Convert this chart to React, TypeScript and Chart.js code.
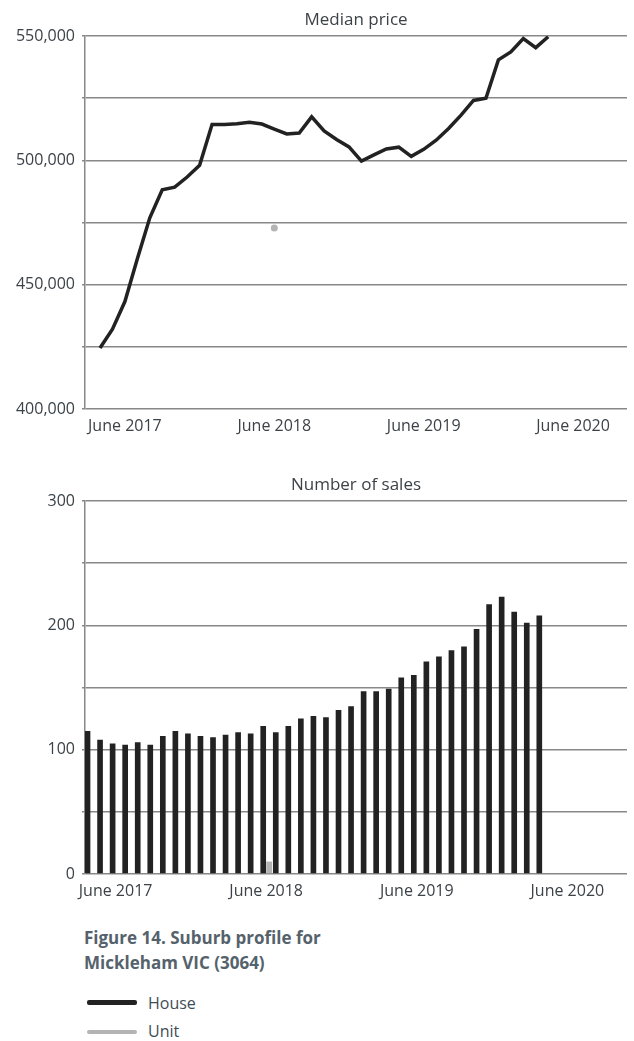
import React, { useEffect, useRef } from 'react';
import { Chart, registerables } from 'chart.js';

Chart.register(...registerables);

// ---- data ----
const months = [
  'Apr 2017', 'May 2017', 'Jun 2017', 'Jul 2017', 'Aug 2017', 'Sep 2017', 'Oct 2017', 'Nov 2017', 'Dec 2017',
  'Jan 2018', 'Feb 2018', 'Mar 2018', 'Apr 2018', 'May 2018', 'Jun 2018', 'Jul 2018', 'Aug 2018', 'Sep 2018',
  'Oct 2018', 'Nov 2018', 'Dec 2018', 'Jan 2019', 'Feb 2019', 'Mar 2019', 'Apr 2019', 'May 2019', 'Jun 2019',
  'Jul 2019', 'Aug 2019', 'Sep 2019', 'Oct 2019', 'Nov 2019', 'Dec 2019', 'Jan 2020', 'Feb 2020', 'Mar 2020',
  'Apr 2020',
];

// month positions (index from Apr 2017) of the axis labels
const tickMonthIndex = [2, 14, 26, 38];
const tickLabels = ['June 2017', 'June 2018', 'June 2019', 'June 2020'];

const housePrice = [
  424500, 432100, 443200, 460400, 476900, 488200, 489200, 493300, 498000, 514400,
  514400, 514700, 515300, 514600, 512600, 510600, 511000, 517500, 511800, 508400,
  505400, 499700, 502200, 504600, 505300, 501600, 504400, 508100, 512800, 518200,
  524100, 525000, 540400, 543600, 549000, 545300, 549700,
];

const unitPriceMonth = 'Jun 2018';
const unitPriceValue = 472800;

const houseSales = [
  115, 108, 105, 104, 106, 104, 111, 115, 113, 111,
  110, 112, 114, 113, 119, 114, 119, 125, 127, 126,
  132, 135, 147, 147, 149, 158, 160, 171, 175, 180,
  183, 197, 217, 223, 211, 202, 208,
];

const unitSalesMonth = 'Jun 2018';
const unitSalesValue = 10;

const priceTicks = { min: 400000, max: 550000, step: 25000, labelEvery: 50000 };
const salesTicks = { min: 0, max: 300, step: 50, labelEvery: 100 };

// ---- styles ----
const FONT = "'Open Sans', 'Noto Sans', sans-serif";
const TEXT = '#3b4248';
const GRID = '#888888';
const HOUSE = '#222222';
const UNIT = '#b4b4b4';

function baseOptions(title: string, xMin: number, xMax: number, yCfg: any) {
  return {
    animation: false as const,
    responsive: false,
    layout: { padding: { left: 0, right: 7, top: 0, bottom: 0 } },
    plugins: {
      legend: { display: false },
      tooltip: { enabled: false },
      title: {
        display: true,
        text: title,
        fullSize: false,
        color: TEXT,
        font: { family: FONT, size: 17, weight: 'normal' as const },
        padding: { top: 10, bottom: 5.6 },
      },
    },
    scales: {
      x: {
        type: 'linear' as const,
        offset: false,
        min: xMin,
        max: xMax,
        afterBuildTicks: (s: any) => {
          s.ticks = tickMonthIndex.map((v) => ({ value: v }));
        },
        afterFit: (s: any) => {
          s.height = 36;
        },
        grid: { display: false, drawTicks: false, offset: false },
        border: { display: false },
        ticks: {
          autoSkip: false,
          maxRotation: 0,
          padding: 8,
          color: TEXT,
          font: { family: FONT, size: 16 },
          callback: (v: any) => {
            const i = tickMonthIndex.indexOf(Number(v));
            return i >= 0 ? tickLabels[i] : '';
          },
        },
      },
      y: {
        min: yCfg.min,
        max: yCfg.max,
        afterFit: (s: any) => {
          s.width = 85;
        },
        grid: { color: GRID, lineWidth: 1.5, drawTicks: true, tickLength: 3 },
        border: { display: true, color: GRID, width: 1.5 },
        ticks: {
          stepSize: yCfg.step,
          padding: 7,
          color: TEXT,
          font: { family: FONT, size: 16 },
          callback: (v: any) =>
            Number(v) % yCfg.labelEvery === 0 ? Number(v).toLocaleString('en-US') : '',
        },
      },
    },
  };
}

export default function App() {
  const topRef = useRef<HTMLCanvasElement | null>(null);
  const botRef = useRef<HTMLCanvasElement | null>(null);

  useEffect(() => {
    if (!topRef.current || !botRef.current) return;

    const top = new Chart(topRef.current, {
      type: 'line',
      data: {
        datasets: [
          {
            label: 'House',
            data: housePrice.map((v, i) => ({ x: i, y: v })),
            borderColor: HOUSE,
            borderWidth: 3.5,
            pointRadius: 0,
            tension: 0,
            fill: false,
          },
          {
            label: 'Unit',
            data: [{ x: months.indexOf(unitPriceMonth), y: unitPriceValue }],
            showLine: false,
            pointRadius: 3.5,
            pointBorderWidth: 0,
            pointBackgroundColor: UNIT,
            borderColor: UNIT,
            backgroundColor: UNIT,
          },
        ],
      },
      options: baseOptions('Median price', -1.205, 42.33, priceTicks) as any,
    });

    const bot = new Chart(botRef.current, {
      type: 'bar',
      data: {
        datasets: [
          {
            label: 'House',
            data: houseSales.map((v, i) => ({ x: i, y: v })),
            backgroundColor: HOUSE,
            borderWidth: 0,
            categoryPercentage: 0.95,
            barPercentage: 0.95,
          },
          {
            label: 'Unit',
            data: [{ x: months.indexOf(unitSalesMonth), y: unitSalesValue }],
            backgroundColor: UNIT,
            borderWidth: 0,
            categoryPercentage: 0.95,
            barPercentage: 0.95,
          },
        ],
      },
      options: baseOptions('Number of sales', -0.438, 42.75, salesTicks) as any,
    });

    return () => {
      top.destroy();
      bot.destroy();
    };
  }, []);

  const text: React.CSSProperties = { fontFamily: FONT };

  return (
    <div style={{ position: 'absolute', left: 0, top: 0, width: 634, height: 1041, background: '#fff', overflow: 'hidden' }}>
      <canvas ref={topRef} width={634} height={445} style={{ position: 'absolute', left: 0, top: 0, width: 634, height: 445 }} />
      <canvas ref={botRef} width={634} height={445} style={{ position: 'absolute', left: 0, top: 465, width: 634, height: 445 }} />
      <div
        style={{
          ...text,
          position: 'absolute',
          left: 84,
          top: 925,
          fontWeight: 700,
          fontSize: 17,
          lineHeight: '25px',
          color: '#55626c',
        }}
      >
        Figure 14. Suburb profile for
        <br />
        Mickleham VIC (3064)
      </div>
      <div style={{ position: 'absolute', left: 87, top: 1000, width: 50, height: 5, background: HOUSE, borderRadius: 2 }} />
      <div style={{ ...text, position: 'absolute', left: 148, top: 991, fontSize: 16, lineHeight: '24px', color: '#3f4d55' }}>House</div>
      <div style={{ position: 'absolute', left: 87, top: 1030, width: 50, height: 4, background: UNIT, borderRadius: 2 }} />
      <div style={{ ...text, position: 'absolute', left: 148, top: 1019, fontSize: 16, lineHeight: '24px', color: '#3f4d55' }}>Unit</div>
    </div>
  );
}
